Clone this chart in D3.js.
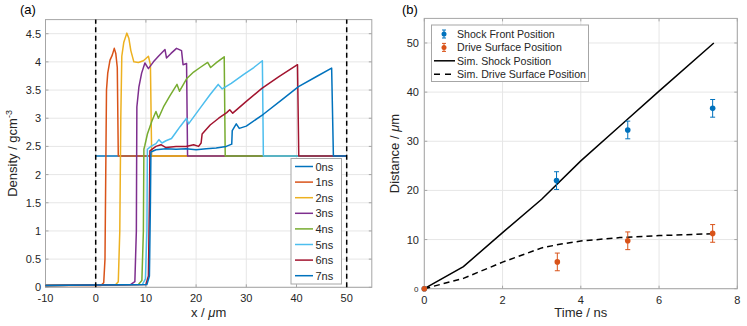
<!DOCTYPE html>
<html>
<head>
<meta charset="utf-8">
<script src="https://cdn.jsdelivr.net/npm/d3@7"></script>
<style>
  body { margin: 0; background: white; }
  svg { font-family: "Liberation Sans", Arial, Helvetica, sans-serif; }
</style>
</head>
<body>
<svg id="chart" width="747" height="326"></svg>
<script>
// ---- panel (a) data: density profiles [x (um), density (g/cm3)] ----
var timeLabels = ["0ns", "1ns", "2ns", "3ns", "4ns", "5ns", "6ns", "7ns"];
var curveColors = ["#0072BD", "#D95319", "#EDB120", "#7E2F8E", "#77AC30", "#4DBEEE", "#A2142F", "#0072BD"];

var curve0ns = [[0, 2.33], [50, 2.33]];
var curve1ns = [[-10, 0.03], [1.0, 0.03], [1.6, 0.08], [1.85, 0.5], [2.0, 2.0], [2.15, 3.5], [2.4, 3.8],
  [2.85, 4.03], [3.3, 4.12], [3.7, 4.24], [4.0, 4.15], [4.3, 3.9], [4.5, 2.33], [50, 2.33]];
var curve2ns = [[-10, 0.03], [4.0, 0.05], [4.5, 0.1], [4.8, 1.0], [5.0, 3.0], [5.2, 4.1], [5.6, 4.35],
  [6.2, 4.51], [6.6, 4.42], [7.0, 4.2], [7.6, 4.0], [8.5, 3.99], [9.5, 4.02], [10.5, 4.1], [10.9, 3.95],
  [11.15, 2.33], [50, 2.33]];
var curve3ns = [[-10, 0.03], [7.0, 0.05], [7.8, 0.1], [8.1, 1.0], [8.2, 3.2], [8.6, 3.55], [9.15, 3.8],
  [9.8, 3.98], [10.5, 3.88], [11.5, 4.0], [12.5, 4.1], [13.8, 4.22], [14.1, 4.07], [15.0, 4.15],
  [16.1, 4.24], [17.1, 4.2], [17.4, 3.95], [18.1, 3.97], [18.3, 2.33], [50, 2.33]];
var curve4ns = [[-10, 0.03], [8.5, 0.05], [9.2, 0.12], [9.5, 1.0], [9.6, 2.45], [9.8, 2.52], [10.3, 2.72],
  [11.2, 2.95], [12.0, 3.12], [12.5, 3.0], [13.5, 3.2], [14.8, 3.4], [16.2, 3.6], [16.7, 3.48], [18.1, 3.7],
  [19.5, 3.82], [20.8, 3.9], [22.3, 3.99], [22.9, 3.9], [24.1, 3.99], [25.6, 4.09], [25.8, 2.33], [50, 2.33]];
var curve5ns = [[-10, 0.03], [9.3, 0.05], [9.9, 0.15], [10.2, 1.0], [10.3, 2.45], [11.0, 2.5], [12.0, 2.55],
  [12.6, 2.62], [13.2, 2.56], [14.0, 2.6], [15.1, 2.64], [16.0, 2.75], [16.8, 2.85], [18.1, 3.0],
  [18.5, 2.9], [20.8, 3.18], [22.8, 3.42], [24.4, 3.6], [25.2, 3.52], [27.0, 3.62], [29.5, 3.78],
  [31.5, 3.9], [33.2, 4.02], [33.4, 2.33], [50, 2.33]];
var curve6ns = [[-10, 0.03], [10.0, 0.05], [10.5, 0.2], [10.7, 1.5], [10.8, 2.42], [12.0, 2.5], [13.0, 2.53],
  [14.0, 2.48], [16.0, 2.5], [18.0, 2.5], [19.5, 2.53], [20.5, 2.5], [21.0, 2.56], [21.2, 2.72],
  [22.8, 2.88], [24.5, 3.0], [26.1, 3.1], [26.7, 3.15], [27.3, 3.09], [30.0, 3.3], [33.1, 3.53],
  [36.5, 3.74], [40.2, 3.95], [40.45, 2.33], [50, 2.33]];
var curve7ns = [[-10, 0.03], [10.2, 0.05], [10.7, 0.2], [10.9, 1.5], [11.0, 2.4], [12.0, 2.44], [14.0, 2.46],
  [16.0, 2.45], [18.0, 2.46], [20.0, 2.44], [22.0, 2.46], [24.0, 2.47], [26.0, 2.5], [27.1, 2.54],
  [27.2, 2.78], [28.0, 2.9], [28.6, 2.82], [30.0, 2.86], [33.4, 3.07], [37.0, 3.32], [40.4, 3.56],
  [44.0, 3.74], [47.0, 3.89], [47.35, 2.33], [50, 2.33]];
var densityCurves = [curve0ns, curve1ns, curve2ns, curve3ns, curve4ns, curve5ns, curve6ns, curve7ns];
var boundaryX = [0, 50];

var aTicksX = [-10, 0, 10, 20, 30, 40, 50];
var aTicksY = [0, 0.5, 1, 1.5, 2, 2.5, 3, 3.5, 4, 4.5];

// ---- panel (b) data ----
var shockTimes = [0, 3.38, 5.2, 7.37];
var shockPos = [0, 22.0, 32.3, 36.7];
var shockErr = [0, 1.8, 1.8, 1.8];
var driveTimes = [0, 3.4, 5.2, 7.37];
var drivePos = [0, 5.45, 9.75, 11.25];
var driveErr = [0, 1.8, 1.8, 1.8];
var simTimes = [0, 1, 2, 3, 4, 5, 6, 7.4];
var simShock = [0, 4.5, 11.4, 18.2, 26.0, 33.1, 40.2, 50.0];
var simDriveTimes = [0, 1, 2, 3, 3.5, 4, 5, 6, 7.4];
var simDrive = [0, 2.1, 5.4, 8.3, 9.1, 9.7, 10.4, 10.8, 11.2];

var bTicksX = [0, 2, 4, 6, 8];
var bTicksY = [0, 10, 20, 30, 40, 50];

var svg = d3.select("#chart");
var textColor = "#262626";
var gridColor = "#e6e6e6";
var frameColor = "#a6a6a6";

function drawGrid(g, x, y, ticksX, ticksY) {
  var x0 = x.range()[0], x1 = x.range()[1];
  var y0 = y.range()[0], y1 = y.range()[1];
  g.append("g").selectAll("line").data(ticksX).enter().append("line")
    .attr("x1", d => x(d)).attr("x2", d => x(d)).attr("y1", y0).attr("y2", y1)
    .attr("stroke", gridColor).attr("stroke-width", 1);
  g.append("g").selectAll("line").data(ticksY).enter().append("line")
    .attr("y1", d => y(d)).attr("y2", d => y(d)).attr("x1", x0).attr("x2", x1)
    .attr("stroke", gridColor).attr("stroke-width", 1);
}

function drawFrame(g, x, y, ticksX, ticksY) {
  var x0 = x.range()[0], x1 = x.range()[1];
  var y0 = y.range()[0], y1 = y.range()[1];
  var tl = 3;
  g.append("rect").attr("x", x0).attr("y", y1).attr("width", x1 - x0).attr("height", y0 - y1)
    .attr("fill", "none").attr("stroke", frameColor).attr("stroke-width", 1);
  ticksX.forEach(function (d) {
    g.append("line").attr("x1", x(d)).attr("x2", x(d)).attr("y1", y0).attr("y2", y0 - tl).attr("stroke", frameColor);
    g.append("line").attr("x1", x(d)).attr("x2", x(d)).attr("y1", y1).attr("y2", y1 + tl).attr("stroke", frameColor);
    g.append("text").attr("x", x(d)).attr("y", y0 + 15).attr("text-anchor", "middle")
      .style("font-size", "11px").attr("fill", textColor).text(d);
  });
  ticksY.forEach(function (d) {
    g.append("line").attr("y1", y(d)).attr("y2", y(d)).attr("x1", x0).attr("x2", x0 + tl).attr("stroke", frameColor);
    g.append("line").attr("y1", y(d)).attr("y2", y(d)).attr("x1", x1).attr("x2", x1 - tl).attr("stroke", frameColor);
  });
}

// ================= panel (a) =================
var xa = d3.scaleLinear().domain([-10, 55]).range([45.5, 371.8]);
var ya = d3.scaleLinear().domain([0, 4.75]).range([287.3, 19.6]);
var ga = svg.append("g");
drawGrid(ga, xa, ya, aTicksX, aTicksY);
drawFrame(ga, xa, ya, aTicksX, aTicksY);

var line = d3.line().x(d => xa(d[0])).y(d => ya(d[1]));
densityCurves.forEach(function (c, i) {
  ga.append("path").datum(c).attr("d", line).attr("fill", "none")
    .attr("stroke", curveColors[i]).attr("stroke-width", 1.5).attr("stroke-linejoin", "round");
});

ga.selectAll(".bound").data(boundaryX).enter().append("line")
  .attr("x1", d => xa(d)).attr("x2", d => xa(d)).attr("y1", ya(0)).attr("y2", ya(4.75))
  .attr("stroke", "black").attr("stroke-width", 1.5).attr("stroke-dasharray", "5,3.5");

aTicksY.forEach(function (d) {
  ga.append("text").attr("x", 41).attr("y", ya(d) + 4).attr("text-anchor", "end")
    .style("font-size", "11px").attr("fill", textColor).text(d);
});

// legend (a)
var lga = ga.append("g");
lga.append("rect").attr("x", 291).attr("y", 158.5).attr("width", 50.5).attr("height", 125.5)
  .attr("fill", "white").attr("stroke", frameColor).attr("stroke-width", 1);
timeLabels.forEach(function (t, i) {
  var yy = 166.5 + i * 15.6;
  lga.append("line").attr("x1", 295).attr("x2", 313).attr("y1", yy).attr("y2", yy)
    .attr("stroke", curveColors[i]).attr("stroke-width", 1.5);
  lga.append("text").attr("x", 315.5).attr("y", yy + 4).style("font-size", "11px")
    .attr("fill", textColor).text(t);
});

var xla = ga.append("text").attr("x", xa(22.5)).attr("y", 317).attr("text-anchor", "middle")
  .style("font-size", "13px").attr("fill", textColor);
xla.append("tspan").text("x / ");
xla.append("tspan").style("font-style", "italic").text("μ");
xla.append("tspan").text("m");
var yla = ga.append("text").attr("transform", "translate(17," + ya(2.375) + ") rotate(-90)")
  .attr("text-anchor", "middle").style("font-size", "13px").attr("fill", textColor);
yla.append("tspan").text("Density / gcm");
yla.append("tspan").attr("dy", -5).style("font-size", "9px").text("-3");
ga.append("text").attr("x", 20).attr("y", 14).style("font-size", "13px").attr("fill", "black").text("(a)");

// ================= panel (b) =================
var xb = d3.scaleLinear().domain([0, 8]).range([424.3, 737.3]);
var yb = d3.scaleLinear().domain([0, 55]).range([288.7, 18.4]);
var gb = svg.append("g");
drawGrid(gb, xb, yb, bTicksX, bTicksY);
drawFrame(gb, xb, yb, bTicksX, bTicksY);

var lineB = d3.line().x(d => xb(d[0])).y(d => yb(d[1]));
gb.append("path").datum(simTimes.map((t, i) => [t, simShock[i]])).attr("d", lineB)
  .attr("fill", "none").attr("stroke", "black").attr("stroke-width", 1.5);
gb.append("path").datum(simDriveTimes.map((t, i) => [t, simDrive[i]])).attr("d", lineB)
  .attr("fill", "none").attr("stroke", "black").attr("stroke-width", 1.5).attr("stroke-dasharray", "6,4");

function errorSeries(ts, vs, es, color) {
  var g = gb.append("g");
  ts.forEach(function (t, i) {
    var cx = xb(t);
    if (es[i] > 0) {
      g.append("line").attr("x1", cx).attr("x2", cx).attr("y1", yb(vs[i] - es[i])).attr("y2", yb(vs[i] + es[i]))
        .attr("stroke", color).attr("stroke-width", 1);
      [vs[i] - es[i], vs[i] + es[i]].forEach(function (v) {
        g.append("line").attr("x1", cx - 2.5).attr("x2", cx + 2.5).attr("y1", yb(v)).attr("y2", yb(v))
          .attr("stroke", color).attr("stroke-width", 1);
      });
    }
    g.append("circle").attr("cx", cx).attr("cy", yb(vs[i])).attr("r", 2.8).attr("fill", color);
  });
}
errorSeries(shockTimes, shockPos, shockErr, "#0072BD");
errorSeries(driveTimes, drivePos, driveErr, "#D95319");

bTicksY.forEach(function (d) {
  gb.append("text").attr("x", d === 0 ? 418.5 : 419).attr("y", yb(d) + (d === 0 ? 3.5 : 4)).attr("text-anchor", "end")
    .style("font-size", d === 0 ? "8px" : "11px").attr("fill", textColor).text(d);
});

// legend (b)
var lgb = gb.append("g");
lgb.append("rect").attr("x", 431.5).attr("y", 25).attr("width", 157).attr("height", 56.5)
  .attr("fill", "white").attr("stroke", frameColor).attr("stroke-width", 1);
var legB = [
  { label: "Shock Front Position", color: "#0072BD", kind: "err" },
  { label: "Drive Surface Position", color: "#D95319", kind: "err" },
  { label: "Sim. Shock Position", color: "black", kind: "solid" },
  { label: "Sim. Drive Surface Position", color: "black", kind: "dash" }
];
legB.forEach(function (d, i) {
  var yy = 34 + i * 13.4;
  if (d.kind === "err") {
    lgb.append("line").attr("x1", 444).attr("x2", 444).attr("y1", yy - 4).attr("y2", yy + 4).attr("stroke", d.color);
    lgb.append("line").attr("x1", 442).attr("x2", 446).attr("y1", yy - 4).attr("y2", yy - 4).attr("stroke", d.color);
    lgb.append("line").attr("x1", 442).attr("x2", 446).attr("y1", yy + 4).attr("y2", yy + 4).attr("stroke", d.color);
    lgb.append("circle").attr("cx", 444).attr("cy", yy).attr("r", 2.5).attr("fill", d.color);
  } else {
    lgb.append("line").attr("x1", 434).attr("x2", 455).attr("y1", yy).attr("y2", yy)
      .attr("stroke", "black").attr("stroke-width", 1.5).attr("stroke-dasharray", d.kind === "dash" ? "6,5" : null);
  }
  lgb.append("text").attr("x", 457).attr("y", yy + 4).style("font-size", "10.6px").attr("fill", textColor).text(d.label);
});

gb.append("text").attr("x", xb(4)).attr("y", 317).attr("text-anchor", "middle")
  .style("font-size", "13px").attr("fill", textColor).text("Time / ns");
var ylb = gb.append("text").attr("transform", "translate(399," + yb(27.5) + ") rotate(-90)")
  .attr("text-anchor", "middle").style("font-size", "13px").attr("fill", textColor);
ylb.append("tspan").text("Distance / ");
ylb.append("tspan").style("font-style", "italic").text("μ");
ylb.append("tspan").text("m");
gb.append("text").attr("x", 402).attr("y", 14).style("font-size", "13px").attr("fill", "black").text("(b)");
</script>
</body>
</html>
